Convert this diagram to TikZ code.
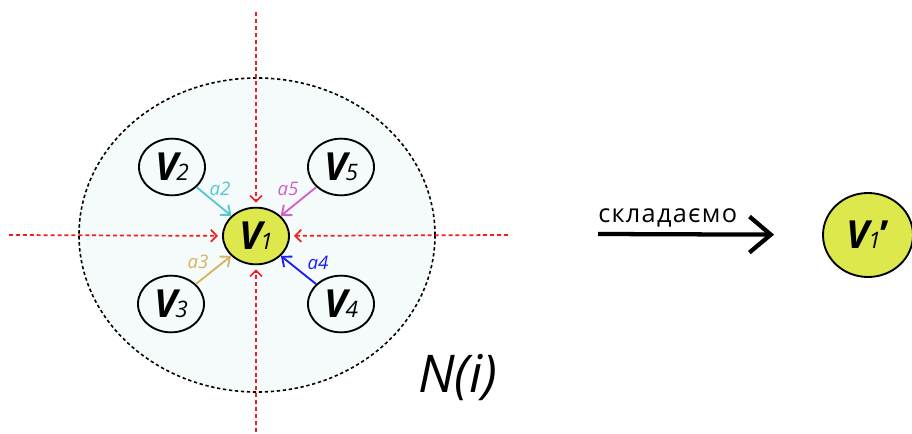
\documentclass[tikz,border=0pt]{standalone}
\usepackage{fontspec}
\setmainfont{Open Sans}
\usepackage{xcolor}
\usetikzlibrary{arrows.meta, shapes.geometric}

\definecolor{nodegreen}{RGB}{220,232,76}
\definecolor{nbhdfill}{RGB}{245,251,250}
\definecolor{dashred}{RGB}{240,30,30}
\definecolor{acyan}{RGB}{85,200,208}
\definecolor{amagenta}{RGB}{210,96,200}
\definecolor{atan}{RGB}{214,180,100}
\definecolor{ablue}{RGB}{30,30,240}

\newcommand{\vtx}[1]{{\fontsize{29}{29}\selectfont\bfseries\itshape V}\kern-1pt{\fontsize{17}{17}\selectfont\itshape #1}}

\begin{document}
\begin{tikzpicture}[x=0.75pt, y=-0.75pt,
    vertex/.style={ellipse, draw, line width=1.4pt, minimum width=49.5pt, minimum height=42.5pt, inner sep=0pt},
    redline/.style={dashred, line width=1.3pt, dash pattern=on 3pt off 2.2pt, -{Straight Barb[length=4.5pt, width=9pt]}, shorten >=3pt},
    weight/.style={line width=1.4pt, -{Straight Barb[length=6pt, width=10pt]}},
    wlabel/.style={font=\fontsize{14}{14}\selectfont\itshape, inner sep=0pt}]
    \useasboundingbox (0,0) rectangle (912,434);
    \clip (0,0) rectangle (912,434);

    % Neighbourhood
    \node[ellipse, draw, fill=nbhdfill, line width=1.2pt, dash pattern=on 2.5pt off 2pt,
          minimum width=267pt, minimum height=235.5pt, inner sep=0pt] (nbhd) at (257,235) {};

    % Vertices
    \node[vertex, fill=nodegreen] (v1) at (256,236) {\vtx{1}};
    \node[vertex] (v2) at (172,167) {\vtx{2}};
    \node[vertex] (v5) at (341,167) {\vtx{5}};
    \node[vertex] (v3) at (171,304) {\vtx{3}};
    \node[vertex] (v4) at (341,304) {\vtx{4}};

    % Red axes
    \coordinate (top) at (256,12);
    \coordinate (bottom) at (256,432);
    \coordinate (left) at (9,235);
    \coordinate (right) at (508,235);
    \draw[redline] (top) -- (v1);
    \draw[redline] (bottom) -- (v1);
    \draw[redline] (left) -- (v1);
    \draw[redline] (right) -- (v1);

    % Weighted edges
    \draw[weight, acyan] (v2) -- (v1);
    \draw[weight, amagenta] (v5) -- (v1);
    \draw[weight, atan] (v3) -- (v1);
    \draw[weight, ablue] (v4) -- (v1);
    \node[wlabel, acyan] (la2) at (220,189) {a2};
    \node[wlabel, amagenta] (la5) at (288,189) {a5};
    \node[wlabel, atan] (la3) at (198,262) {a3};
    \node[wlabel, ablue] (la4) at (318,263) {a4};

    \node[anchor=base west, inner sep=0pt, font=\fontsize{39}{39}\selectfont\itshape] (ni) at (418,392) {N(i)};

    % Aggregation
    \node[vertex, fill=nodegreen, minimum width=67.5pt, minimum height=63pt] (v1p) at (868,235) {\vtx{1}{\fontsize{29}{29}\selectfont\bfseries ’}};
    \coordinate (start) at (598,234);
    \draw[line width=3.2pt, -{Straight Barb[length=16pt, width=27pt]}, shorten >=36pt] (start) -- (v1p);
    \node[anchor=base west, inner sep=0pt, font=\fontsize{19}{19}\selectfont\addfontfeatures{LetterSpace=5}] (agg) at (598,223) {складаємо};
\end{tikzpicture}
\end{document}
